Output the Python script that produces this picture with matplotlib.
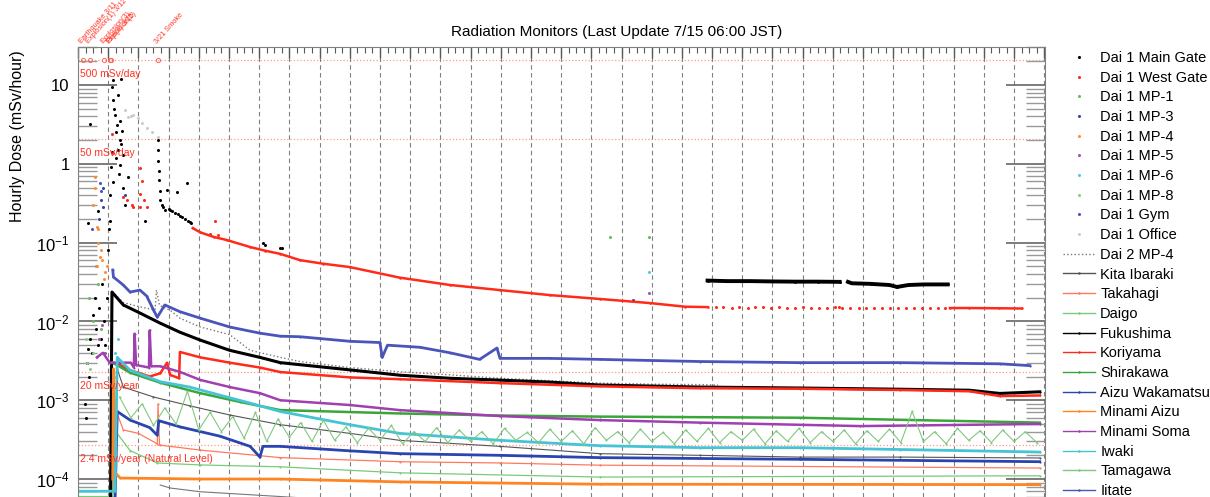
import numpy as np
import matplotlib.pyplot as plt
from matplotlib.lines import Line2D
from matplotlib.ticker import MultipleLocator, LogLocator, FuncFormatter, NullFormatter
import matplotlib.transforms as mtransforms

plt.rcParams['font.family'] = ['Liberation Sans', 'DejaVu Sans']

# x = days since 3/11 00:00 JST, y = hourly dose in mSv/hour
main_gate = [(0.9, 0.0009), (1.0, 0.0006), (1.2, 0.003), (1.3, 0.0045), (1.4, 0.002), (1.6, 0.006),
             (1.8, 0.004), (2.0, 0.012), (2.2, 0.02), (2.4, 0.008), (2.6, 0.005), (2.8, 0.015),
             (3.0, 0.006), (3.2, 0.03), (3.4, 0.01), (3.6, 0.005), (3.8, 0.02), (1.3, 0.18), (1.6, 3.2),
             (2.7, 0.25), (4.0, 0.08), (4.1, 0.15), (4.2, 0.19), (4.3, 0.4), (4.4, 0.9), (4.5, 1.4),
             (4.5, 9.4), (4.6, 6.4), (4.6, 0.59), (4.7, 11.5), (4.8, 5.0), (4.9, 4.2), (5.0, 2.5),
             (5.1, 1.2), (5.2, 3.1), (5.3, 1.5), (5.3, 7.5), (5.4, 0.75), (5.5, 2.0), (5.6, 0.97),
             (5.6, 3.5), (5.7, 1.8), (5.8, 2.6), (5.9, 0.5), (6.0, 1.3), (6.2, 0.3), (5.7, 12.0),
             (6.6, 0.68), (8.9, 0.19), (10.6, 2.0), (10.6, 1.5), (10.6, 1.1), (10.7, 0.8), (10.7, 0.62),
             (10.8, 0.45), (10.9, 0.35), (11.1, 0.3), (11.3, 0.28), (11.5, 0.26), (11.8, 0.46),
             (12.0, 0.27), (12.2, 0.26), (12.5, 0.25), (12.8, 0.24), (13.1, 0.44), (13.3, 0.23),
             (13.5, 0.22), (13.8, 0.21), (14.2, 0.2), (14.4, 0.57), (14.6, 0.19), (14.8, 0.185),
             (15.0, 0.18), (24.5, 0.099), (24.8, 0.093), (26.8, 0.086), (27.0, 0.085)]
main_gate_late = [(83.4, 0.033), (86.0, 0.0325), (89.0, 0.0325), (92.0, 0.0322), (95.0, 0.032),
                  (98.0, 0.032), (100.9, 0.0318), (101.5, np.nan), (102.0, 0.0318), (102.5, 0.0305),
                  (105.0, 0.030), (107.5, 0.029), (108.5, 0.0274), (110.0, 0.029), (112.0, 0.0295),
                  (115.2, 0.0295)]
west_gate = [(4.5, 2.4), (4.6, 1.37), (6.0, 0.38), (6.5, 0.35), (7.1, 0.3), (7.3, 0.28), (8.2, 0.42),
             (8.2, 0.88), (8.2, 0.28), (9.1, 0.28), (8.5, 0.6), (8.8, 0.35), (17.5, 0.13), (18.2, 0.19),
             (18.6, 0.125), (84.5, 0.0151), (85.5, 0.0152), (86.6, 0.0150), (87.6, 0.0151),
             (88.7, 0.0150), (89.7, 0.0152), (90.8, 0.0151), (91.8, 0.0150), (92.9, 0.0151),
             (93.9, 0.0150), (95.0, 0.0150), (96.0, 0.0151), (97.1, 0.0149), (98.1, 0.0150),
             (99.2, 0.0150), (100.3, 0.0151), (100.8, 0.0151), (101.2, 0.0150), (102.3, 0.0149),
             (103.4, 0.0148), (104.4, 0.0149), (105.5, 0.0148), (106.5, 0.0148), (107.6, 0.0147),
             (108.6, 0.0148), (109.7, 0.0148), (110.7, 0.0147), (111.8, 0.0148), (112.8, 0.0147),
             (113.9, 0.0147), (114.9, 0.0148)]
west_gate_line = [(15.2, 0.153), (16.2, 0.135), (18.0, 0.118), (19.7, 0.108), (22.8, 0.088),
                  (24.8, 0.079), (26.8, 0.072), (29.4, 0.060), (32.5, 0.054), (36.0, 0.049),
                  (42.6, 0.036), (49.3, 0.029), (55.9, 0.025), (62.5, 0.0216), (69.1, 0.0193),
                  (75.8, 0.0171), (80.4, 0.0154), (83.4, 0.0152), (84.0, np.nan), (115.5, 0.0148),
                  (118.0, 0.0148), (122.0, 0.0147), (125.0, 0.0146)]
mp1 = [(1.5, 0.02), (2.0, 0.01), (2.4, 0.05), (2.6, 0.03), (3.0, 0.008), (3.4, 0.004), (70.5, 0.118),
       (75.6, 0.118)]
mp3 = [(3.3, 0.5), (3.3, 0.28), (3.1, 0.35), (6.2, 0.4), (2.8, 0.2), (73.5, 0.0187)]
mp4 = [(2.25, 0.68), (2.3, 0.5), (2.5, 0.16), (2.6, 0.15), (2.9, 0.066), (2.5, 0.05), (3.6, 0.042),
       (3.0, 0.08), (2.7, 0.1), (3.2, 0.06), (3.4, 0.035), (2.0, 0.3), (3.8, 0.05)]
mp5 = [(2.8, 0.006), (3.2, 0.009), (3.6, 0.004), (75.6, 0.0229)]
mp6 = [(4.9, 0.004), (5.0, 0.002), (5.3, 0.006), (75.6, 0.0425)]
mp8 = [(1.2, 0.003), (1.6, 0.0025), (2.0, 0.004), (1.0, 0.006)]
gym = [(2.9, 0.57), (3.1, 0.45), (1.8, 0.15)]
office = [(6.2, 4.8), (6.6, 3.9), (7.0, 4.1), (7.3, 4.2), (7.9, 3.8), (8.5, 3.3), (9.1, 2.85),
          (9.8, 2.55), (10.6, 2.2)]
dai2_mp4 = [(4.9, 0.022), (6.0, 0.0174), (8.2, 0.0153), (10.2, 0.014), (10.4, 0.025), (10.8, 0.016),
            (12.2, 0.0139), (13.5, 0.011), (16.2, 0.0085), (20.1, 0.0068), (22.8, 0.0043),
            (26.8, 0.0035), (29.4, 0.0031), (36.0, 0.0026), (42.6, 0.0023), (49.3, 0.0021),
            (55.9, 0.0019), (62.5, 0.00177), (69.1, 0.00165), (75.8, 0.0016), (82.4, 0.00158),
            (84.8, 0.00156)]
kita_ibaraki = [(0.0, 0.00005), (4.9, 0.00005), (5.2, 0.0025), (6.0, 0.00147), (10.0, 0.0011),
                (14.8, 0.00085), (20.1, 0.00065), (26.8, 0.00049), (36.0, 0.00038), (42.6, 0.00031),
                (55.9, 0.00026), (69.1, 0.00021), (82.4, 0.0002), (95.6, 0.00019), (108.9, 0.00019),
                (127.4, 0.000185)]
takahagi = [(0.0, 0.00007), (4.6, 0.00007), (4.9, 0.0008), (6.0, 0.00042), (8.0, 0.00038),
            (10.5, 0.00028), (10.6, 0.0009), (10.8, 0.00027), (16.2, 0.000233), (26.8, 0.000187),
            (42.6, 0.000166), (55.9, 0.00016), (69.1, 0.00015), (127.4, 0.000138)]
daigo = [(0.0, 0.00006), (4.6, 0.00006), (5.0, 0.0004), (6.9, 0.00023), (10.5, 0.00016),
         (16.2, 0.000151), (26.8, 0.000143), (42.6, 0.00012), (69.1, 0.000106), (127.4, 0.00011)]
fukushima = [(0.0, 0.00004), (4.3, 0.00004), (4.5, 0.0236), (6.0, 0.0162), (8.2, 0.0128),
             (10.9, 0.0095), (13.5, 0.0073), (16.2, 0.0058), (20.1, 0.0043), (24.1, 0.0035),
             (26.8, 0.0030), (36.0, 0.00243), (42.6, 0.00208), (49.3, 0.0019), (55.9, 0.0018),
             (62.5, 0.0017), (69.1, 0.00156), (82.4, 0.00147), (95.6, 0.00143), (108.9, 0.00138),
             (118.1, 0.00134), (122.1, 0.00122), (127.4, 0.00128)]
koriyama = [(4.6, 0.0030), (5.6, 0.0028), (6.9, 0.0024), (8.2, 0.0022), (9.5, 0.0020), (10.9, 0.0022),
            (11.8, 0.0030), (12.2, 0.0021), (13.4, 0.0019), (13.5, 0.0041), (16.2, 0.0035),
            (20.1, 0.0030), (24.1, 0.0026), (26.8, 0.00228), (36.0, 0.00195), (42.6, 0.00185),
            (55.9, 0.00165), (69.1, 0.0015), (82.4, 0.00142), (95.6, 0.0014), (108.9, 0.00135),
            (118.1, 0.0013), (122.1, 0.00113), (127.4, 0.00115)]
shirakawa = [(4.6, 0.0030), (6.9, 0.00224), (10.9, 0.00167), (16.2, 0.00123), (21.5, 0.00095),
             (26.8, 0.00075), (42.6, 0.00068), (55.9, 0.00064), (69.1, 0.00062), (95.6, 0.0006),
             (127.4, 0.00052)]
aizu_wakamatsu = [(0.0, 0.00005), (4.9, 0.00005), (5.2, 0.00072), (6.9, 0.00056), (9.5, 0.00045),
                  (10.5, 0.00036), (10.7, 0.00055), (13.5, 0.00046), (18.8, 0.00035), (22.8, 0.00026),
                  (24.1, 0.00019), (24.5, 0.00026), (26.8, 0.00026), (36.0, 0.000228), (42.6, 0.00021),
                  (55.9, 0.0002), (69.1, 0.000187), (95.6, 0.000178), (127.4, 0.000166)]
minami_aizu = [(4.6, 0.0001), (4.7, 0.0025), (4.9, 0.00012), (5.6, 0.000103), (16.2, 0.0001),
               (26.8, 0.0001), (42.6, 0.000092), (69.1, 0.000086), (127.4, 0.000085)]
minami_soma = [(2.5, 0.0035), (3.3, 0.004), (4.2, 0.003), (5.6, 0.003), (7.0, 0.003), (7.4, 0.0026),
               (7.5, 0.007), (7.7, 0.0028), (9.4, 0.0026), (9.5, 0.0077), (9.7, 0.0027),
               (10.9, 0.0027), (13.5, 0.00229), (16.2, 0.00181), (20.1, 0.00147), (24.1, 0.00123),
               (26.8, 0.001), (36.0, 0.00087), (42.6, 0.00075), (55.9, 0.00063), (69.1, 0.00056),
               (82.4, 0.00052), (103.6, 0.00047), (127.4, 0.0005)]
iwaki = [(0.0, 0.00007), (4.9, 0.00007), (5.2, 0.0035), (6.9, 0.0024), (10.9, 0.00172),
         (14.8, 0.00147), (18.8, 0.00116), (22.8, 0.00092), (26.8, 0.00072), (36.0, 0.00049),
         (42.6, 0.00038), (55.9, 0.00031), (69.1, 0.000265), (82.4, 0.00025), (95.6, 0.00025),
         (108.9, 0.000237), (127.4, 0.00022)]
tamagawa_days = np.arange(5.5, 128, 1.5)
tamagawa_vals = [0.0011, 0.0006, 0.0009, 0.00048, 0.0008, 0.0005, 0.0013, 0.00042, 0.0007, 0.0004,
                 0.00062, 0.00033, 0.0007, 0.0003, 0.00058, 0.00034, 0.00052, 0.0003, 0.00056, 0.00031,
                 0.00046, 0.00029, 0.00044, 0.00031, 0.00048, 0.00028, 0.0004, 0.0003, 0.00045, 0.00029,
                 0.00042, 0.0003, 0.0004, 0.00028, 0.00044, 0.00031, 0.00039, 0.00029, 0.00043, 0.0003,
                 0.00041, 0.00028, 0.00045, 0.00031, 0.0004, 0.00029, 0.00043, 0.0003, 0.00039, 0.00028,
                 0.00042, 0.0003, 0.00044, 0.00029, 0.0004, 0.00031, 0.00043, 0.00028, 0.00041, 0.0003,
                 0.00044, 0.00029, 0.0004, 0.0003, 0.00042, 0.00028, 0.00041, 0.0003, 0.00043, 0.00029,
                 0.00072, 0.0003, 0.0004, 0.00028, 0.00044, 0.00031, 0.00041, 0.00029, 0.00042, 0.0003,
                 0.0004, 0.00029]
iitate = [(4.6, 0.045), (4.7, 0.0366), (6.0, 0.029), (6.9, 0.0236), (8.2, 0.025), (9.1, 0.021),
          (10.0, 0.014), (10.5, 0.0113), (11.5, 0.0162), (13.5, 0.0133), (16.2, 0.011), (20.1, 0.0085),
          (24.1, 0.0071), (26.8, 0.0065), (29.4, 0.0064), (36.0, 0.0056), (40.0, 0.0054),
          (40.3, 0.0035), (41.0, 0.005), (45.3, 0.0047), (49.3, 0.0040), (53.2, 0.0033),
          (55.5, 0.0046), (55.9, 0.0034), (62.5, 0.0034), (69.1, 0.0033), (82.4, 0.0031),
          (95.6, 0.0030), (108.9, 0.0030), (122.1, 0.0029), (126.1, 0.00275)]
low_gray = [(10.9, 0.000084), (12.2, 0.000077), (16.2, 0.000069), (26.8, 0.00006), (40.0, 0.00005)]

# reference levels (mSv/hour)
ref_levels = [500 / 24, 50 / 24, 20 / 8760, 2.4 / 8760]
ref_labels = ['500 mSv/day', '50 mSv/day', '20 mSv/year', '2.4 mSv/year (Natural Level)']

events_day = [0.6, 1.65, 3.46, 4.26, 4.4, 10.66]
events_text = ['Earthquake 3/11', 'Explosion(1) 3/12', 'Explosion(3)', 'Explosion(2)', 'Fire(4) 3/15',
               '3/21 Smoke']


def xy(points):
    a = np.array(points, dtype=float)
    return a[:, 0], a[:, 1]


# the reference is cropped just below 1e-4, so the axes end at the image edge
px_per_decade = 78.8
ymax = 30.4
ymin = 10 ** (-4 - 18 / px_per_decade)
ax_h = np.log10(ymax / ymin) * px_per_decade
fig = plt.figure(figsize=(12.1, 4.97), dpi=100)
ax = fig.add_axes([78 / 1210, 1 - (47 + ax_h) / 497, 967 / 1210, ax_h / 497])

dots = dict(ls='none', marker='o', ms=2.2, mew=0)
ax.plot(*xy(main_gate), color='black', label='Dai 1 Main Gate', **dots)
ax.plot(*xy(west_gate), color='#ff2a1a', label='Dai 1 West Gate', **dots)
ax.plot(*xy(mp1), color='#66bb66', label='Dai 1 MP-1', **dots)
ax.plot(*xy(mp3), color='#3344aa', label='Dai 1 MP-3', **dots)
ax.plot(*xy(mp4), color='#ff8c33', label='Dai 1 MP-4', **dots)
ax.plot(*xy(mp5), color='#a050b8', label='Dai 1 MP-5', **dots)
ax.plot(*xy(mp6), color='#55c8d8', label='Dai 1 MP-6', **dots)
ax.plot(*xy(mp8), color='#88cc88', label='Dai 1 MP-8', **dots)
ax.plot(*xy(gym), color='#4455bb', label='Dai 1 Gym', **dots)
ax.plot(*xy(office), color='#cccccc', label='Dai 1 Office', **dots)
ax.plot(*xy(dai2_mp4), color='#777777', ls=':', lw=1.0, label='Dai 2 MP-4')

line = dict(marker='o', ms=1.5, mew=0)
ax.plot(*xy(kita_ibaraki), color='#555555', lw=0.8, label='Kita Ibaraki', **line)
ax.plot(*xy(takahagi), color='#ff7a5c', lw=0.9, label='Takahagi', **line)
ax.plot(*xy(daigo), color='#77cc77', lw=0.9, label='Daigo', **line)
ax.plot(*xy(fukushima), color='black', lw=2.2, label='Fukushima', **line)
ax.plot(*xy(koriyama), color='#ff2a1a', lw=1.8, label='Koriyama', **line)
ax.plot(*xy(shirakawa), color='#3aa63a', lw=1.8, label='Shirakawa', **line)
ax.plot(*xy(aizu_wakamatsu), color='#2a44b0', lw=2.0, label='Aizu Wakamatsu', **line)
ax.plot(*xy(minami_aizu), color='#ff8422', lw=2.0, label='Minami Aizu', **line)
ax.plot(*xy(minami_soma), color='#a040b0', lw=1.8, label='Minami Soma', **line)
ax.plot(*xy(iwaki), color='#44c4d4', lw=2.0, label='Iwaki', **line)
ax.plot(tamagawa_days, tamagawa_vals, color='#80c880', lw=0.8, label='Tamagawa', **line)
ax.plot(*xy(iitate), color='#4a55bb', lw=2.0, label='Iitate', **line)

# pieces drawn as connected runs, no legend entry
ax.plot(*xy(main_gate_late), color='black', lw=2.8, marker='o', ms=2, mew=0)
ax.plot(*xy(west_gate_line), color='#ff2a1a', lw=1.8, marker='o', ms=1.8, mew=0)
ax.plot(*xy(low_gray), color='#777777', lw=0.8)

# reference levels
for lvl, txt in zip(ref_levels, ref_labels):
    ax.axhline(lvl, color='#ff9a8a', ls=':', lw=0.9, zorder=0)
    ax.annotate(txt, xy=(0, lvl), xycoords=('axes fraction', 'data'), xytext=(2, -14),
                textcoords='offset pixels', color='#ff3322', fontsize=7.5, va='center', ha='left')

# events along the top
trans = mtransforms.blended_transform_factory(ax.transData, ax.transAxes)
for d, txt in zip(events_day, events_text):
    ax.text(d, 1.004, txt, transform=trans, rotation=48, rotation_mode='anchor', fontsize=5.3,
            color='#ff3322', ha='left', va='bottom', clip_on=False)
ax.plot(events_day, [ref_levels[0]] * len(events_day), ls='none', marker='o', ms=3, mfc='none',
        mec='#ff6655', mew=0.7)

ax.set_yscale('log')
ax.set_ylim(ymin, ymax)
ax.set_xlim(0, 128.1)

ax.xaxis.set_major_locator(MultipleLocator(4))
ax.xaxis.set_minor_locator(MultipleLocator(1))
ax.tick_params(axis='x', which='both', direction='in', top=True, bottom=False,
               labeltop=False, labelbottom=False, color='0.35')
ax.tick_params(axis='x', which='major', length=8, width=1.0)
ax.tick_params(axis='x', which='minor', length=4, width=0.8)
ax.grid(axis='x', which='major', color='0.5', ls=(0, (4, 3)), lw=0.8)

ax.yaxis.set_major_locator(LogLocator(base=10, numticks=12))
ax.yaxis.set_minor_locator(LogLocator(base=10, subs=np.arange(2, 10), numticks=12))
ax.yaxis.set_minor_formatter(NullFormatter())


def fmt(v, pos):
    e = int(round(np.log10(v)))
    if e == 1:
        return '10'
    if e == 0:
        return '1'
    return r'$\mathregular{10^{%d}}$' % e


ax.yaxis.set_major_formatter(FuncFormatter(fmt))
ax.tick_params(axis='y', which='both', direction='in', left=True, right=True, labelsize=12)
ax.tick_params(axis='y', which='major', length=28, width=1.2, color='0.4', pad=6)
ax.tick_params(axis='y', which='minor', length=14, width=1.0, color='0.6')

for s in ax.spines.values():
    s.set_color('0.5')
ax.spines['bottom'].set_visible(False)

fig.text(617 / 1210, 1 - 32 / 497, 'Radiation Monitors (Last Update 7/15 06:00 JST)',
         ha='center', va='center', fontsize=11)
fig.text(18 / 1210, 1 - 136 / 497, 'Hourly Dose (mSv/hour)', rotation=90,
         ha='center', va='center', fontsize=11.5)

# legend with thin sample lines, like the reference
handles, labels = ax.get_legend_handles_labels()
thin = []
for h in handles:
    ls = h.get_linestyle()
    thin.append(Line2D([], [], color=h.get_color(), ls=ls, lw=0 if ls == 'None' else 1.0,
                       marker='o' if ls != ':' else '', ms=2.2 if ls == 'None' else 1.8, mew=0))
fig.legend(thin, labels, loc='upper left', bbox_to_anchor=(1063 / 1210, 1 - 51 / 497),
           frameon=False, fontsize=10.5, handlelength=2.2, handletextpad=0.35,
           labelspacing=0.39, borderpad=0, borderaxespad=0)

fig.savefig('out.png', dpi=100)
plt.close(fig)
